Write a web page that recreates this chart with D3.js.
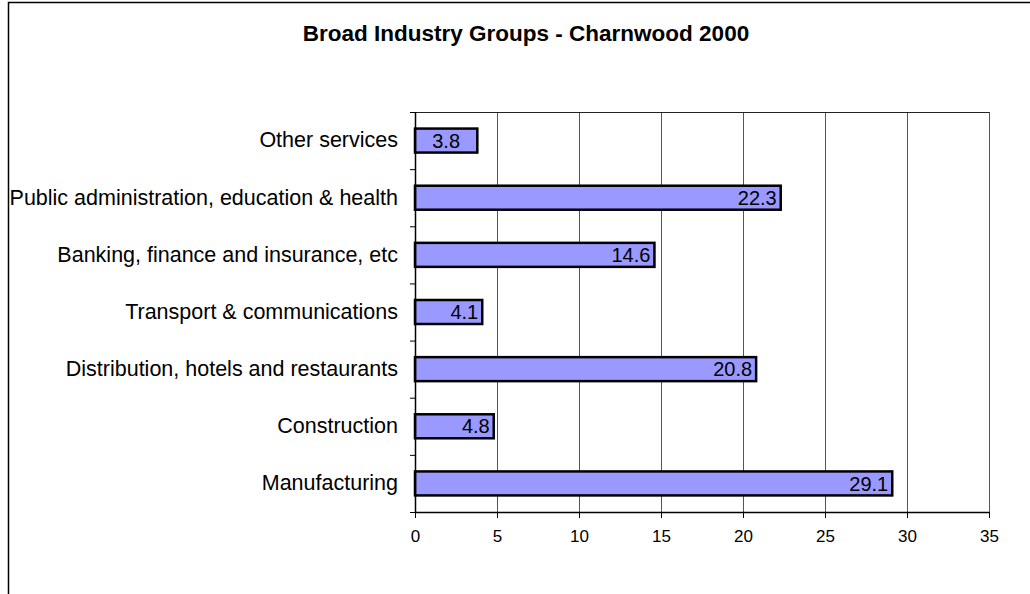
<!DOCTYPE html>
<html>
<head>
<meta charset="utf-8">
<script src="https://cdn.jsdelivr.net/npm/d3@7"></script>
<style>
  body { margin: 0; background: #fff; }
  text { font-family: "Liberation Sans", Arial, sans-serif; fill: #000; }
</style>
</head>
<body>
<svg id="chart" width="1030" height="594"></svg>
<script>
var categories = [
    "Other services",
    "Public administration, education & health",
    "Banking, finance and insurance, etc",
    "Transport & communications",
    "Distribution, hotels and restaurants",
    "Construction",
    "Manufacturing"
];
var values = [3.8, 22.3, 14.6, 4.1, 20.8, 4.8, 29.1];
var xTicks = [0, 5, 10, 15, 20, 25, 30, 35];
var title = "Broad Industry Groups - Charnwood 2000";

var svg = d3.select("#chart");

// outer chart frame (runs off the right and bottom edges)
svg.append("rect")
    .attr("x", 8.5).attr("y", 2.5)
    .attr("width", 1100).attr("height", 700)
    .attr("fill", "none").attr("stroke", "#000").attr("stroke-width", 1.5);

svg.append("text")
    .attr("x", 526).attr("y", 41)
    .attr("text-anchor", "middle")
    .style("font-size", "22.5px").style("font-weight", "bold")
    .text(title);

var plotLeft = 415, plotRight = 989, plotTop = 112, plotBottom = 512;

var x = d3.scaleLinear().domain([0, 35]).range([plotLeft, plotRight]);
var y = d3.scaleBand().domain(categories).range([plotTop, plotBottom]).paddingInner(0.58).paddingOuter(0.29);

// gridlines
svg.append("g").selectAll("line")
    .data(xTicks.slice(1))
  .enter()
    .append("line")
    .attr("x1", function(d) { return Math.round(x(d)) + 0.5; })
    .attr("x2", function(d) { return Math.round(x(d)) + 0.5; })
    .attr("y1", plotTop).attr("y2", plotBottom)
    .attr("stroke", "#555").attr("stroke-width", 1);

// plot top border
svg.append("line")
    .attr("x1", plotLeft).attr("x2", plotRight + 0.5)
    .attr("y1", plotTop + 0.5).attr("y2", plotTop + 0.5)
    .attr("stroke", "#222").attr("stroke-width", 1.2);

// bars
svg.append("g").selectAll("rect")
    .data(values)
  .enter()
    .append("rect")
    .attr("x", x(0))
    .attr("y", function(d, i) { return y(categories[i]); })
    .attr("width", function(d) { return x(d) - x(0); })
    .attr("height", y.bandwidth())
    .attr("fill", "#9999ff")
    .attr("stroke", "#000").attr("stroke-width", 2.5);

// value labels (short bars get a centred label, as in the original)
svg.append("g").selectAll("text")
    .data(values)
  .enter()
    .append("text")
    .attr("x", function(d) { return d < 4 ? (x(d) + x(0)) / 2 : x(d) - 4; })
    .attr("y", function(d, i) { return y(categories[i]) + y.bandwidth() / 2; })
    .attr("dy", "0.36em")
    .attr("text-anchor", function(d) { return d < 4 ? "middle" : "end"; })
    .style("font-size", "20px")
    .text(function(d) { return d.toFixed(1); });

// x axis
var xAxis = d3.axisBottom(x).tickValues(xTicks).tickSize(6).tickPadding(12);
var gx = svg.append("g")
    .attr("transform", "translate(0," + plotBottom + ")")
    .call(xAxis);
gx.select(".domain").attr("stroke", "#000").attr("stroke-width", 1.5).attr("d", "M" + plotLeft + ",0.5H" + plotRight);
gx.selectAll(".tick line").attr("stroke", "#000");
gx.selectAll("text").style("font-size", "17px").attr("font-family", null);

// y axis (category) with ticks between categories
var yAxis = d3.axisLeft(y).tickSize(0).tickPadding(17);
var gy = svg.append("g")
    .attr("transform", "translate(" + plotLeft + ",0)")
    .call(yAxis);
gy.select(".domain").attr("stroke", "#000").attr("stroke-width", 1.5).attr("d", "M0.5," + plotTop + "V" + plotBottom);
gy.selectAll("text").style("font-size", "21.5px").attr("font-family", null);

var bounds = d3.range(categories.length + 1).map(function(i) {
    return plotTop + i * (plotBottom - plotTop) / categories.length;
});
svg.append("g").selectAll("line")
    .data(bounds)
  .enter()
    .append("line")
    .attr("x1", plotLeft - 5).attr("x2", plotLeft)
    .attr("y1", function(d) { return d + 0.5; })
    .attr("y2", function(d) { return d + 0.5; })
    .attr("stroke", "#000").attr("stroke-width", 1);
</script>
</body>
</html>
